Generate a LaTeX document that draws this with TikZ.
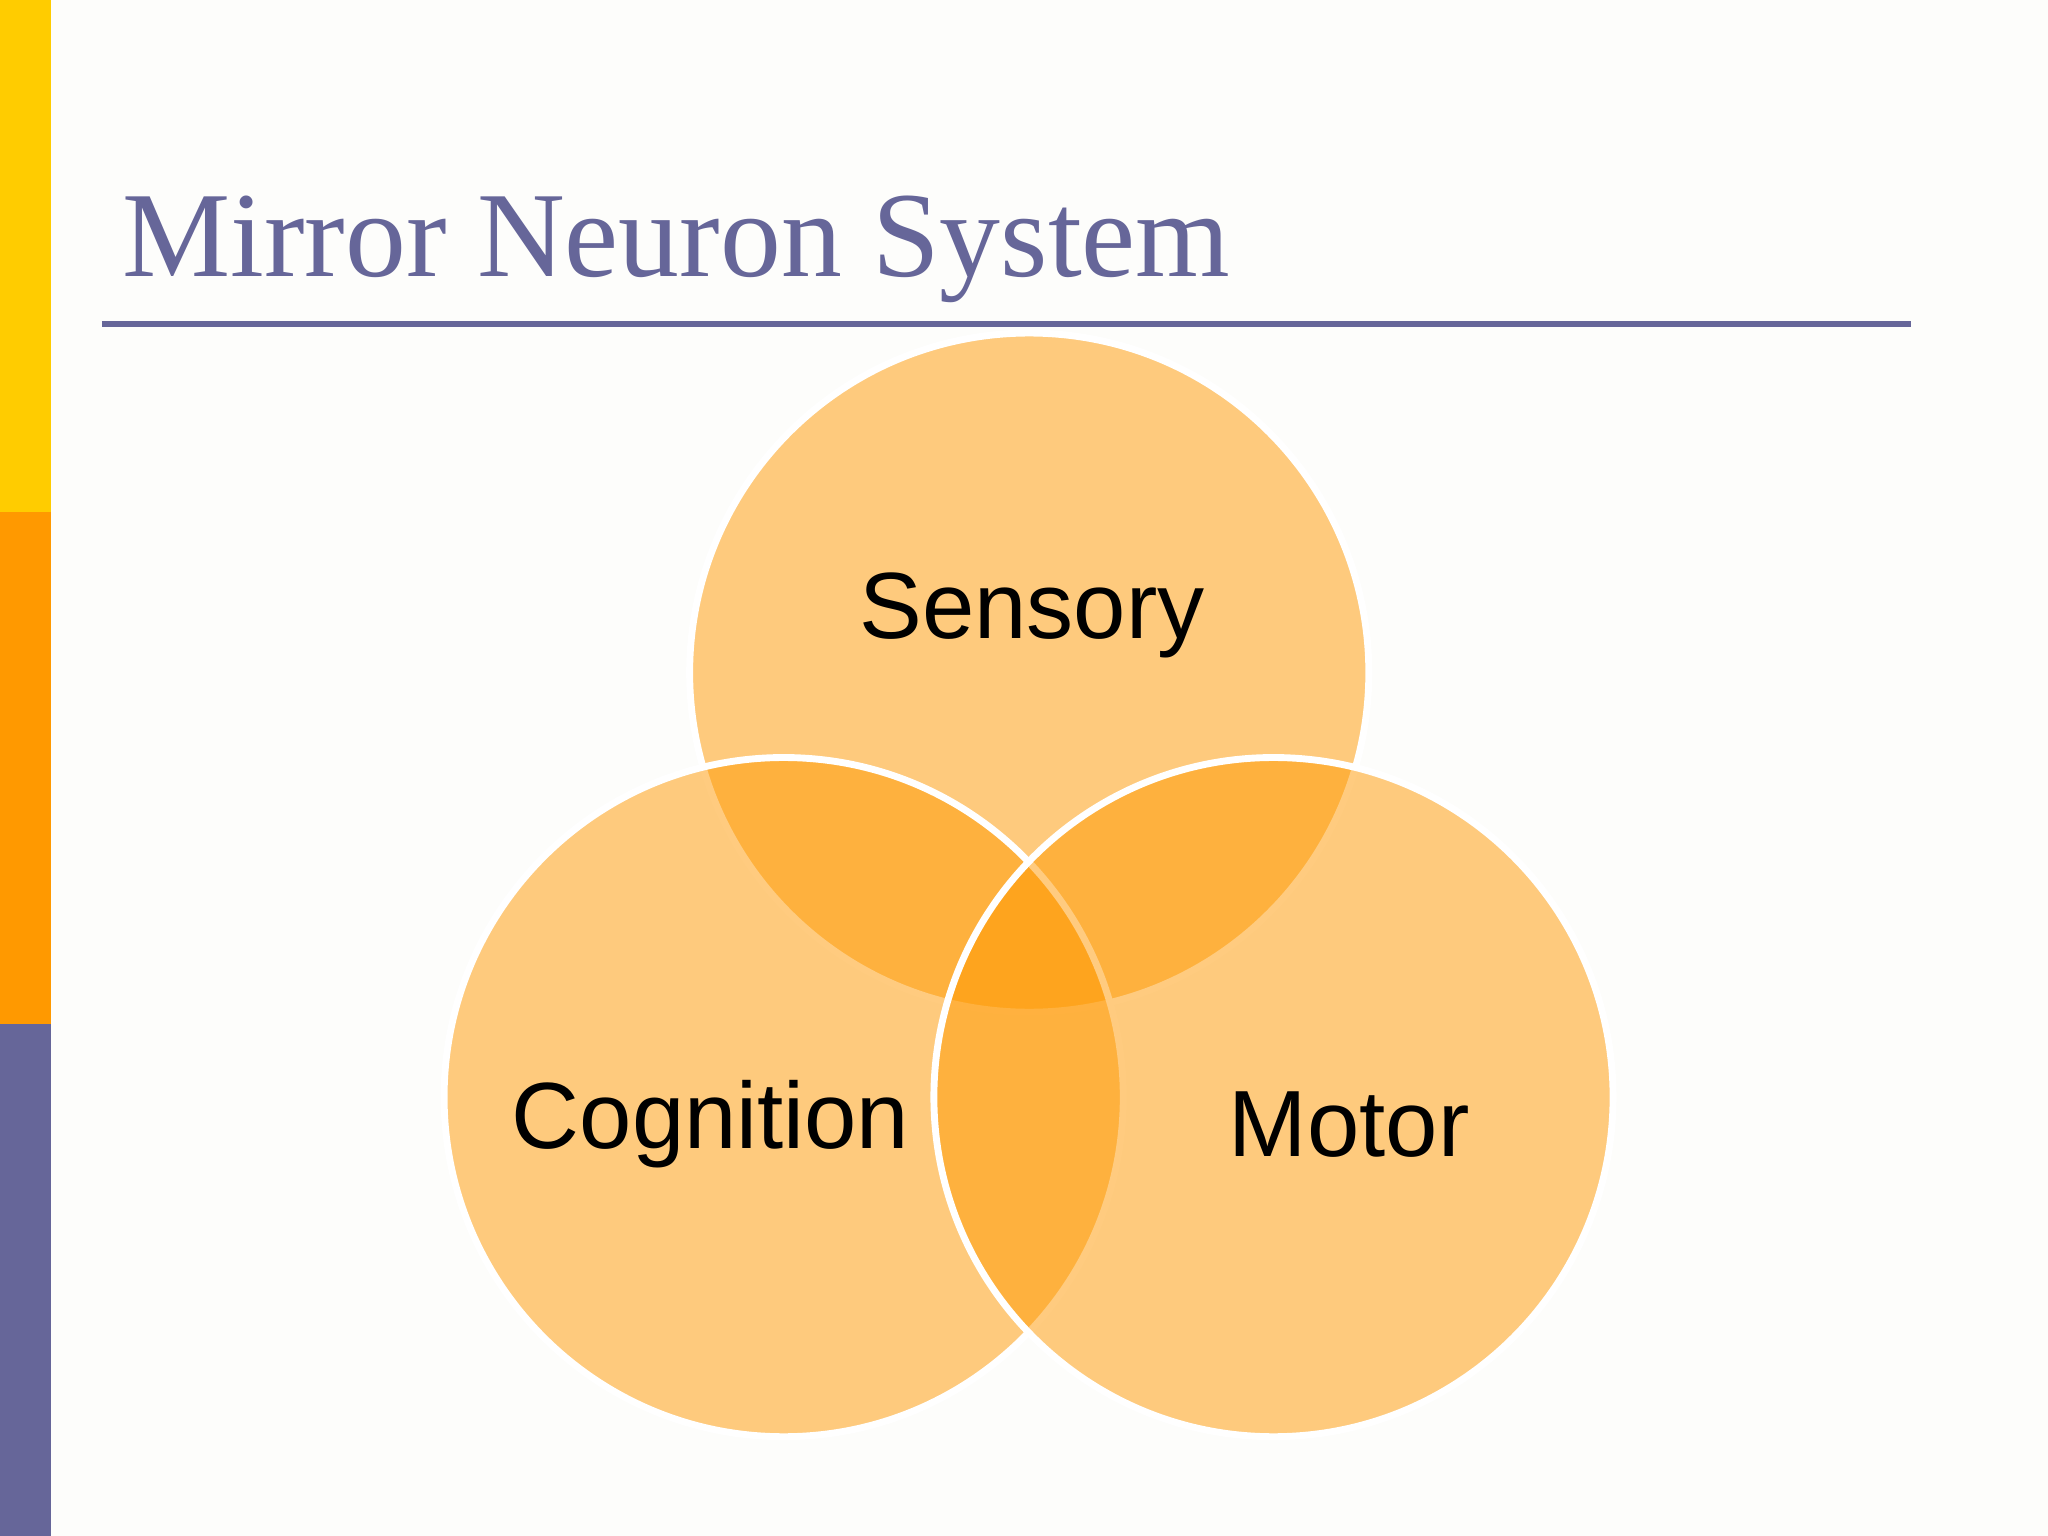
\documentclass[tikz,border=0pt]{standalone}
\usepackage{fontspec}
\setmainfont{Liberation Serif}
\newfontfamily\arialf{Liberation Sans}
\definecolor{bgc}{HTML}{FDFDFB}
\definecolor{yel}{HTML}{FFCC00}
\definecolor{org}{HTML}{FF9900}
\definecolor{pur}{HTML}{666699}
\begin{document}
\begin{tikzpicture}
\tikzset{venn/.style={circle,minimum size=5.2cm,inner sep=0,fill=org,fill opacity=0.5,draw=white,line width=1.5pt},
lbl/.style={font=\arialf\fontsize{20.5pt}{24pt}\selectfont,text=black}}
\fill[bgc] (0,0) rectangle (15.68,11.76);
\useasboundingbox (0,0) rectangle (15.68,11.76);
\fill[yel] (0,7.84) rectangle (0.39,11.76);
\fill[org] (0,3.92) rectangle (0.39,7.84);
\fill[pur] (0,0) rectangle (0.39,3.92);
\node[anchor=base west,inner sep=0,text=pur,font=\fontsize{26.5pt}{30pt}\selectfont] (title) at (0.93,9.64) {Mirror Neuron System};
\draw[pur,line width=1.2pt] (0.78,9.28) coordinate (l1) -- (14.63,9.28) coordinate (l2);
\node[venn] (s) at (7.88,6.61) {};
\node[venn] (c) at (6.00,3.36) {};
\node[venn] (m) at (9.75,3.36) {};
\node[lbl] (st) at (7.90,7.05) {Sensory};
\node[lbl] (ct) at (5.44,3.15) {Cognition};
\node[lbl] (mt) at (10.33,3.15) {Motor};
\end{tikzpicture}
\end{document}
